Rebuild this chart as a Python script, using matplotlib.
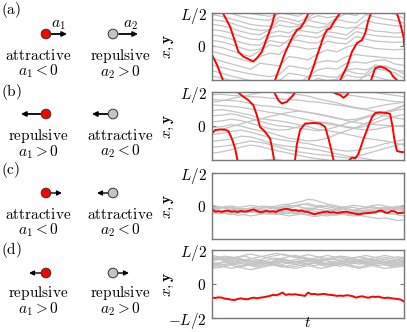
import numpy as np
import matplotlib
matplotlib.use("Agg")
import matplotlib.pyplot as plt
from matplotlib.patches import Circle

plt.rcParams["mathtext.fontset"] = "cm"
plt.rcParams["font.size"] = 11

# ---------------- data (L = 2, so positions run from -1 to 1) ----------------
# panel (a): red particle, unwrapped position
t_red_a = [0.000, 0.026, 0.056, 0.094, 0.120, 0.137, 0.163, 0.198, 0.215, 0.233,
           0.259, 0.285, 0.311, 0.328, 0.354, 0.380, 0.415, 0.441, 0.458, 0.476,
           0.503, 0.528, 0.545, 0.563, 0.580, 0.597, 0.615, 0.641, 0.667, 0.702,
           0.728, 0.754, 0.780, 0.797, 0.814, 0.828, 0.849, 0.875, 0.901, 0.927,
           0.943, 0.962, 0.979, 0.997, 1.000]
y_red_a = [-0.25, -0.55, -1.00, -1.41, -1.86, -2.16, -2.30, -2.40, -2.45, -2.35,
           -2.16, -1.76, -1.36, -1.00, -0.60, -0.19, 0.24, 0.49, 0.54, 0.69,
           1.00, 1.40, 1.70, 2.00, 2.29, 2.49, 2.54, 2.79, 3.00, 3.40,
           3.84, 4.10, 4.19, 4.39, 4.79, 5.00, 5.35, 5.40, 5.35, 5.25,
           5.10, 5.00, 4.69, 4.29, 4.04]

# panel (a): grey particles on t = 0, 0.05, ..., 1
gray_a = [
    [.95, .90, .82, .74, .66, .62, .60, .88, .82, .74, .86, 1.05, .98, 1.02, 1.28, 1.20, 1.18, 1.45, 1.40, 1.32, 1.18],
    [.80, .76, .70, .60, .52, .48, .50, .78, .72, .64, .80, .92, .86, .90, 1.15, 1.08, 1.10, 1.35, 1.28, 1.22, 1.05],
    [.66, .62, .55, .45, .38, .35, .50, .64, .58, .60, .78, .72, .66, .86, .98, .92, 1.15, 1.10, 1.02, .96, .84],
    [.50, .47, .40, .30, .22, .20, .40, .46, .40, .56, .62, .56, .60, .80, .74, .70, .95, .88, .82, .78, .70],
    [.35, .30, .22, .12, .05, .04, .28, .32, .28, .48, .44, .40, .56, .60, .54, .58, .78, .70, .66, .62, .60],
    [.18, .14, .06, -.04, -.12, -.08, .18, .12, .10, .34, .30, .26, .44, .40, .34, .56, .52, .46, .44, .40, .42],
    [.02, -.03, -.12, -.22, -.30, -.12, .05, .00, .20, .18, .12, .10, .32, .26, .22, .44, .38, .32, .30, .28, .28],
    [-.15, -.22, -.30, -.38, -.46, -.30, -.20, -.24, .02, -.02, -.08, -.05, .16, .10, .08, .30, .22, .16, .14, .12, .14],
    [-.35, -.44, -.52, -.60, -.68, -.50, -.54, -.58, -.30, -.34, -.40, -.22, -.10, -.16, -.02, .06, .00, -.06, -.08, -.10, -.08],
    [-.55, -.62, -.70, -.76, -.82, -.86, -.90, -.84, -.58, -.62, -.68, -.48, -.42, -.46, -.30, -.24, -.28, -.30, -.34, -.36, -.36],
    [-.72, -.80, -.88, -.95, -1.02, -1.06, -1.10, -1.02, -.80, -.84, -.90, -.70, -.64, -.68, -.50, -.46, -.50, -.42, -.40, -.52, -.56],
    [-.88, -.94, -1.02, -1.10, -1.16, -1.20, -1.22, -1.00, -1.04, -1.10, -.90, -.86, -.90, -.92, -.70, -.66, -.70, -.60, -.58, -.70, -.74],
]

# panel (b): red particle, unwrapped position
t_red_b = [0.000, 0.016, 0.042, 0.068, 0.085, 0.103, 0.120, 0.132, 0.163, 0.189,
           0.215, 0.233, 0.250, 0.276, 0.302, 0.311, 0.323, 0.345, 0.363, 0.389,
           0.406, 0.423, 0.432, 0.441, 0.458, 0.484, 0.528, 0.563, 0.589, 0.606,
           0.623, 0.632, 0.641, 0.667, 0.684, 0.702, 0.714, 0.729, 0.745, 0.762,
           0.788, 0.814, 0.832, 0.849, 0.875, 0.910, 0.927, 0.939, 0.949, 0.962,
           0.979, 1.000]
y_red_b = [-0.22, -0.12, -0.10, -0.11, -0.15, -0.37, -0.66, -1.00, -1.14, -1.24,
           -1.39, -1.68, -2.03, -2.17, -2.37, -2.61, -3.00, -3.24, -3.34, -3.29,
           -3.19, -3.09, -3.00, -2.56, -2.12, -1.93, -1.91, -1.93, -2.03, -2.37,
           -2.76, -3.00, -3.04, -3.09, -3.17, -3.09, -3.00, -2.93, -2.95, -2.82,
           -2.39, -2.00, -1.75, -1.62, -1.60, -1.62, -1.65, -2.00, -2.39, -2.73,
           -2.76, -2.77]

gray_b = [
    [.92, .93, .90, .88, .86, .85, .82, .80, .78, .76, .72, .70, .66, .62, .58, .52, .48, .42, .40, .45, .50],
    [.78, .76, .75, .72, .66, .60, .58, .55, .50, .45, .40, .34, .28, .22, .18, .20, .28, .36, .30, .24, .20],
    [.62, .60, .58, .55, .50, .45, .40, .36, .30, .24, .18, .12, .06, .02, -.04, -.08, -.12, -.10, -.04, .00, .02],
    [.45, .48, .44, .38, .32, .22, .18, .15, .10, .04, -.02, -.10, -.14, -.18, -.24, -.30, -.36, -.40, -.44, -.50, -.56],
    [.30, .32, .36, .30, .22, .14, .06, .00, -.02, -.06, -.10, -.14, -.10, -.02, .08, .16, .24, .32, .42, .50, .62],
    [.12, .15, .20, .16, .08, .00, -.08, -.12, -.10, -.02, .06, .12, .10, .04, -.02, -.06, .00, .10, .20, .28, .34],
    [-.05, -.02, .04, .00, -.08, -.14, -.20, -.28, -.36, -.40, -.44, -.42, -.36, -.24, -.14, -.04, .08, .20, .34, .48, .60],
    [-.25, -.22, -.16, -.12, -.18, -.26, -.34, -.40, -.44, -.48, -.52, -.58, -.64, -.70, -.74, -.72, -.66, -.60, -.52, -.46, -.40],
    [-.45, -.42, -.38, -.30, -.32, -.40, -.50, -.56, -.60, -.62, -.66, -.70, -.76, -.82, -.88, -.92, -.96, -1.02, -1.06, -1.10, -1.14],
    [-.62, -.60, -.56, -.50, -.44, -.48, -.54, -.62, -.70, -.76, -.80, -.84, -.86, -.90, -.94, -.90, -.82, -.74, -.66, -.58, -.52],
    [-.80, -.76, -.70, -.62, -.56, -.60, -.68, -.74, -.80, -.86, -.92, -.96, -1.00, -1.04, -1.08, -1.12, -1.16, -1.20, -1.24, -1.28, -1.30],
    [.70, .74, .80, .86, .92, .98, 1.02, 1.00, .96, .92, .88, .80, .74, .68, .60, .54, .50, .56, .62, .66, .70],
    [-.15, -.10, -.02, .06, .14, .20, .28, .34, .40, .44, .40, .36, .30, .24, .16, .10, .06, .04, .02, .00, -.02],
]

# panel (c): red on 61 even time points, grey on 31
y_red_c = [-0.10, -0.17, -0.16, -0.18, -0.15, -0.14, -0.17, -0.16, -0.18, -0.15,
           -0.17, -0.16, -0.13, -0.10, -0.15, -0.19, -0.17, -0.15, -0.17, -0.16,
           -0.18, -0.13, -0.11, -0.08, -0.10, -0.13, -0.12, -0.15, -0.14, -0.17,
           -0.18, -0.22, -0.25, -0.22, -0.20, -0.18, -0.17, -0.20, -0.19, -0.21,
           -0.20, -0.18, -0.17, -0.20, -0.22, -0.24, -0.25, -0.23, -0.22, -0.21,
           -0.20, -0.19, -0.15, -0.14, -0.19, -0.21, -0.15, -0.16, -0.22, -0.21,
           -0.20]
gray_c = [
    [-0.05, -0.08, -0.04, -0.06, -0.10, -0.08, -0.12, -0.09, -0.06, -0.04, -0.07, -0.10, -0.08, -0.12, -0.15, -0.11, -0.09, -0.12, -0.14, -0.10, -0.08, -0.11, -0.13, -0.16, -0.12, -0.09, -0.07, -0.10, -0.12, -0.09, -0.08],
    [-0.15, -0.12, -0.16, -0.20, -0.18, -0.14, -0.17, -0.21, -0.19, -0.15, -0.12, -0.10, -0.06, -0.02, 0.04, 0.08, 0.02, -0.04, -0.08, -0.12, -0.15, -0.18, -0.16, -0.20, -0.22, -0.19, -0.17, -0.21, -0.24, -0.20, -0.18],
    [-0.10, -0.06, -0.02, 0.00, -0.04, -0.02, 0.02, -0.01, -0.05, -0.03, 0.00, 0.04, 0.06, 0.10, 0.14, 0.20, 0.18, 0.12, 0.06, 0.02, -0.02, -0.06, -0.04, -0.08, -0.05, -0.02, -0.06, -0.04, -0.08, -0.05, -0.03],
    [-0.20, -0.24, -0.22, -0.26, -0.22, -0.18, -0.20, -0.16, -0.18, -0.22, -0.20, -0.17, -0.14, -0.18, -0.22, -0.26, -0.24, -0.28, -0.30, -0.26, -0.24, -0.27, -0.30, -0.28, -0.32, -0.35, -0.38, -0.36, -0.40, -0.44, -0.42],
    [-0.08, -0.12, -0.15, -0.12, -0.08, -0.10, -0.06, -0.03, 0.00, -0.02, -0.06, -0.04, -0.01, 0.02, 0.06, 0.03, -0.01, 0.02, -0.02, -0.06, -0.10, -0.08, -0.12, -0.10, -0.06, -0.04, -0.08, -0.12, -0.09, -0.06, -0.10],
    [-0.18, -0.15, -0.20, -0.24, -0.28, -0.26, -0.30, -0.27, -0.24, -0.20, -0.17, -0.20, -0.23, -0.20, -0.16, -0.12, -0.16, -0.19, -0.16, -0.13, -0.16, -0.20, -0.18, -0.14, -0.17, -0.20, -0.18, -0.14, -0.16, -0.20, -0.22],
    [0.02, -0.02, -0.06, -0.04, -0.08, -0.12, -0.10, -0.14, -0.12, -0.08, -0.05, -0.02, 0.02, 0.00, -0.04, -0.08, -0.06, -0.02, 0.01, -0.02, -0.05, -0.02, 0.02, 0.00, -0.03, 0.01, 0.04, 0.00, -0.04, -0.01, 0.02],
    [-0.12, -0.16, -0.19, -0.16, -0.20, -0.17, -0.14, -0.18, -0.22, -0.25, -0.22, -0.26, -0.30, -0.27, -0.24, -0.28, -0.32, -0.29, -0.25, -0.28, -0.26, -0.22, -0.19, -0.22, -0.18, -0.14, -0.17, -0.20, -0.23, -0.27, -0.30],
    [-0.06, -0.03, -0.07, -0.11, -0.14, -0.17, -0.14, -0.10, -0.13, -0.16, -0.12, -0.08, -0.11, -0.14, -0.10, -0.06, -0.09, -0.12, -0.15, -0.18, -0.22, -0.19, -0.16, -0.12, -0.15, -0.18, -0.14, -0.11, -0.08, -0.12, -0.14],
    [-0.22, -0.18, -0.14, -0.10, -0.13, -0.16, -0.12, -0.15, -0.19, -0.22, -0.26, -0.23, -0.20, -0.24, -0.21, -0.18, -0.22, -0.25, -0.22, -0.19, -0.23, -0.26, -0.24, -0.20, -0.17, -0.14, -0.12, -0.08, -0.04, -0.07, -0.10],
]

# panel (d)
y_red_d = [-0.40, -0.41, -0.39, -0.40, -0.43, -0.44, -0.46, -0.47, -0.44, -0.42,
           -0.44, -0.45, -0.42, -0.40, -0.42, -0.40, -0.39, -0.37, -0.35, -0.32,
           -0.33, -0.30, -0.25, -0.32, -0.30, -0.31, -0.30, -0.32, -0.33, -0.35,
           -0.25, -0.30, -0.29, -0.31, -0.30, -0.29, -0.31, -0.32, -0.33, -0.35,
           -0.34, -0.35, -0.33, -0.34, -0.36, -0.40, -0.37, -0.36, -0.39, -0.40,
           -0.37, -0.38, -0.37, -0.40, -0.41, -0.40, -0.42, -0.43, -0.44, -0.46,
           -0.52]
gray_d = [
    [0.70, 0.74, 0.68, 0.72, 0.78, 0.82, 0.76, 0.72, 0.68, 0.64, 0.70, 0.74, 0.70, 0.66, 0.62, 0.66, 0.70, 0.74, 0.68, 0.64, 0.60, 0.64, 0.68, 0.72, 0.76, 0.70, 0.66, 0.62, 0.66, 0.70, 0.68],
    [0.58, 0.62, 0.66, 0.60, 0.56, 0.52, 0.56, 0.60, 0.64, 0.60, 0.56, 0.52, 0.48, 0.52, 0.56, 0.60, 0.64, 0.60, 0.56, 0.60, 0.64, 0.58, 0.54, 0.50, 0.54, 0.58, 0.62, 0.56, 0.52, 0.56, 0.60],
    [0.80, 0.76, 0.72, 0.76, 0.80, 0.84, 0.88, 0.84, 0.80, 0.76, 0.72, 0.76, 0.80, 0.84, 0.80, 0.76, 0.72, 0.68, 0.72, 0.76, 0.80, 0.76, 0.72, 0.68, 0.72, 0.76, 0.80, 0.84, 0.80, 0.76, 0.74],
    [0.52, 0.48, 0.52, 0.56, 0.50, 0.46, 0.42, 0.46, 0.50, 0.54, 0.58, 0.54, 0.50, 0.46, 0.50, 0.54, 0.50, 0.46, 0.50, 0.54, 0.58, 0.54, 0.50, 0.46, 0.50, 0.54, 0.50, 0.46, 0.48, 0.52, 0.54],
    [0.64, 0.60, 0.64, 0.68, 0.72, 0.68, 0.64, 0.68, 0.74, 0.80, 0.84, 0.88, 0.84, 0.80, 0.76, 0.72, 0.68, 0.72, 0.76, 0.72, 0.68, 0.72, 0.76, 0.70, 0.66, 0.70, 0.74, 0.78, 0.74, 0.70, 0.66],
    [0.74, 0.78, 0.82, 0.78, 0.74, 0.70, 0.74, 0.78, 0.82, 0.86, 0.90, 0.86, 0.82, 0.78, 0.82, 0.86, 0.82, 0.78, 0.74, 0.78, 0.82, 0.80, 0.76, 0.80, 0.84, 0.80, 0.76, 0.72, 0.76, 0.80, 0.78],
    [0.60, 0.56, 0.58, 0.62, 0.66, 0.62, 0.58, 0.54, 0.58, 0.62, 0.66, 0.70, 0.66, 0.62, 0.66, 0.70, 0.66, 0.62, 0.58, 0.62, 0.66, 0.70, 0.66, 0.62, 0.58, 0.62, 0.66, 0.62, 0.58, 0.60, 0.64],
    [0.84, 0.80, 0.76, 0.72, 0.68, 0.72, 0.70, 0.66, 0.62, 0.58, 0.62, 0.66, 0.62, 0.58, 0.54, 0.58, 0.62, 0.66, 0.70, 0.74, 0.70, 0.66, 0.62, 0.58, 0.62, 0.66, 0.70, 0.66, 0.62, 0.64, 0.68],
    [0.46, 0.50, 0.54, 0.58, 0.62, 0.58, 0.54, 0.50, 0.54, 0.58, 0.54, 0.50, 0.54, 0.58, 0.62, 0.58, 0.54, 0.58, 0.62, 0.66, 0.62, 0.58, 0.62, 0.66, 0.62, 0.58, 0.54, 0.58, 0.54, 0.50, 0.54],
    [0.68, 0.72, 0.76, 0.80, 0.76, 0.72, 0.68, 0.64, 0.60, 0.64, 0.68, 0.64, 0.60, 0.64, 0.68, 0.72, 0.76, 0.80, 0.84, 0.80, 0.76, 0.72, 0.76, 0.80, 0.76, 0.72, 0.68, 0.72, 0.68, 0.64, 0.62],
    [0.56, 0.54, 0.50, 0.46, 0.50, 0.54, 0.60, 0.64, 0.68, 0.72, 0.76, 0.72, 0.68, 0.72, 0.76, 0.72, 0.68, 0.64, 0.60, 0.56, 0.52, 0.56, 0.60, 0.64, 0.68, 0.64, 0.60, 0.64, 0.68, 0.72, 0.70],
    [0.76, 0.72, 0.70, 0.66, 0.62, 0.66, 0.62, 0.58, 0.62, 0.66, 0.62, 0.58, 0.62, 0.66, 0.70, 0.66, 0.62, 0.56, 0.52, 0.56, 0.60, 0.64, 0.68, 0.64, 0.60, 0.56, 0.60, 0.64, 0.60, 0.56, 0.58],
]

# schematic labels
panel_tags = ["(a)", "(b)", "(c)", "(d)"]
red_kind = ["attractive", "repulsive", "attractive", "repulsive"]
gray_kind = ["repulsive", "attractive", "attractive", "repulsive"]
red_sign = [r"a_1 < 0", r"a_1 > 0", r"a_1 < 0", r"a_1 > 0"]
gray_sign = [r"a_2 > 0", r"a_2 < 0", r"a_2 < 0", r"a_2 > 0"]

RED = "#ff0000"
GRAY = "#c4c4c4"
FRAME = "#777777"

fig = plt.figure(figsize=(4.07, 3.32), dpi=100)

# ---------------- left: schematics (axes in pixel units) ----------------
sk = fig.add_axes([0, 0, 200 / 407, 1])
sk.set_xlim(0, 200)
sk.set_ylim(332, 0)
sk.axis("off")

row_y = [34, 114, 193, 273]
tag_base = [13.5, 96, 174, 254]
label_mid = [64, 144, 223, 301]   # middle of the two-line caption
# arrow (start, end) for red and grey particle in each row
red_arrow = [(51, 67), (41, 21), (50, 62), (41, 29)]
gray_arrow = [(119, 138), (108, 92), (108, 97), (118, 129)]

def arrow(x0, x1, y, lw):
    sk.annotate("", xy=(x1, y), xytext=(x0, y),
                arrowprops=dict(arrowstyle="-|>", lw=lw, color="k",
                                mutation_scale=7, shrinkA=0, shrinkB=0))

for i in range(4):
    y = row_y[i]
    sk.text(1, tag_base[i], r"$\mathrm{" + panel_tags[i] + "}$", fontsize=11,
            ha="left", va="baseline")
    lw = 1.3 if i < 2 else 1.0
    arrow(*red_arrow[i], y, lw)
    arrow(*gray_arrow[i], y, lw)
    sk.add_patch(Circle((46, y), 4.8, facecolor=RED, edgecolor="#333333", lw=0.7, zorder=3))
    sk.add_patch(Circle((113, y), 4.8, facecolor=GRAY, edgecolor="#333333", lw=0.7, zorder=3))
    sk.text(38, label_mid[i],
            r"$\mathrm{" + red_kind[i] + "}$" + "\n" + "$" + red_sign[i] + "$",
            fontsize=11, ha="center", va="center", multialignment="center",
            linespacing=0.95)
    sk.text(120, label_mid[i],
            r"$\mathrm{" + gray_kind[i] + "}$" + "\n" + "$" + gray_sign[i] + "$",
            fontsize=11, ha="center", va="center", multialignment="center",
            linespacing=0.95)

sk.text(58, 27, r"$a_1$", fontsize=11, ha="center", va="baseline")
sk.text(130, 27, r"$a_2$", fontsize=11, ha="center", va="baseline")

# ---------------- right: trajectories ----------------
boxes = [[0.521, 0.759, 0.472, 0.202],
         [0.521, 0.518, 0.472, 0.205],
         [0.521, 0.280, 0.472, 0.199],
         [0.521, 0.042, 0.472, 0.205]]
axes = [fig.add_axes(b) for b in boxes]

t21 = np.linspace(0, 1, 21)
t31 = np.linspace(0, 1, 31)
t61 = np.linspace(0, 1, 61)

def periodic(ax, t, y, **kw):
    # periodic box of length 2: draw shifted copies, the axes clip them
    y = np.asarray(y)
    for k in range(-4, 5):
        ax.plot(t, y + 2 * k, **kw)

for g in gray_a:
    periodic(axes[0], t21, g, color=GRAY, lw=0.9)
periodic(axes[0], t_red_a, y_red_a, color=RED, lw=1.4)

for g in gray_b:
    periodic(axes[1], t21, g, color=GRAY, lw=0.9)
periodic(axes[1], t_red_b, y_red_b, color=RED, lw=1.4)

for g in gray_c:
    axes[2].plot(t31, g, color=GRAY, lw=0.9)
axes[2].plot(t61, y_red_c, color=RED, lw=1.4)

for g in gray_d:
    axes[3].plot(t31, g, color=GRAY, lw=0.9)
axes[3].plot(t61, y_red_d, color=RED, lw=1.4)

for i, ax in enumerate(axes):
    ax.set_xlim(0, 1)
    ax.set_ylim(-1, 1)
    ax.set_xticks([])
    if i == 3:
        ax.set_yticks([-1, 0, 1])
        ax.set_yticklabels([r"$-L/2$", r"$0$", r"$L/2$"])
    else:
        ax.set_yticks([0, 1])
        ax.set_yticklabels([r"$0$", r"$L/2$"])
    ax.tick_params(axis="y", direction="in", length=3, width=0.8, color=FRAME,
                   left=True, right=True, labelsize=11, pad=4)
    for s in ax.spines.values():
        s.set_color(FRAME)
        s.set_linewidth(1.0)
    ax.set_ylabel(r"$x,\mathbf{y}$", fontsize=11)
    ax.yaxis.set_label_coords(-0.19, 0.5)

fig.text(308 / 407, 1 - 327 / 332, r"$t$", fontsize=11, ha="center", va="baseline")

fig.savefig("out.png", dpi=100)
